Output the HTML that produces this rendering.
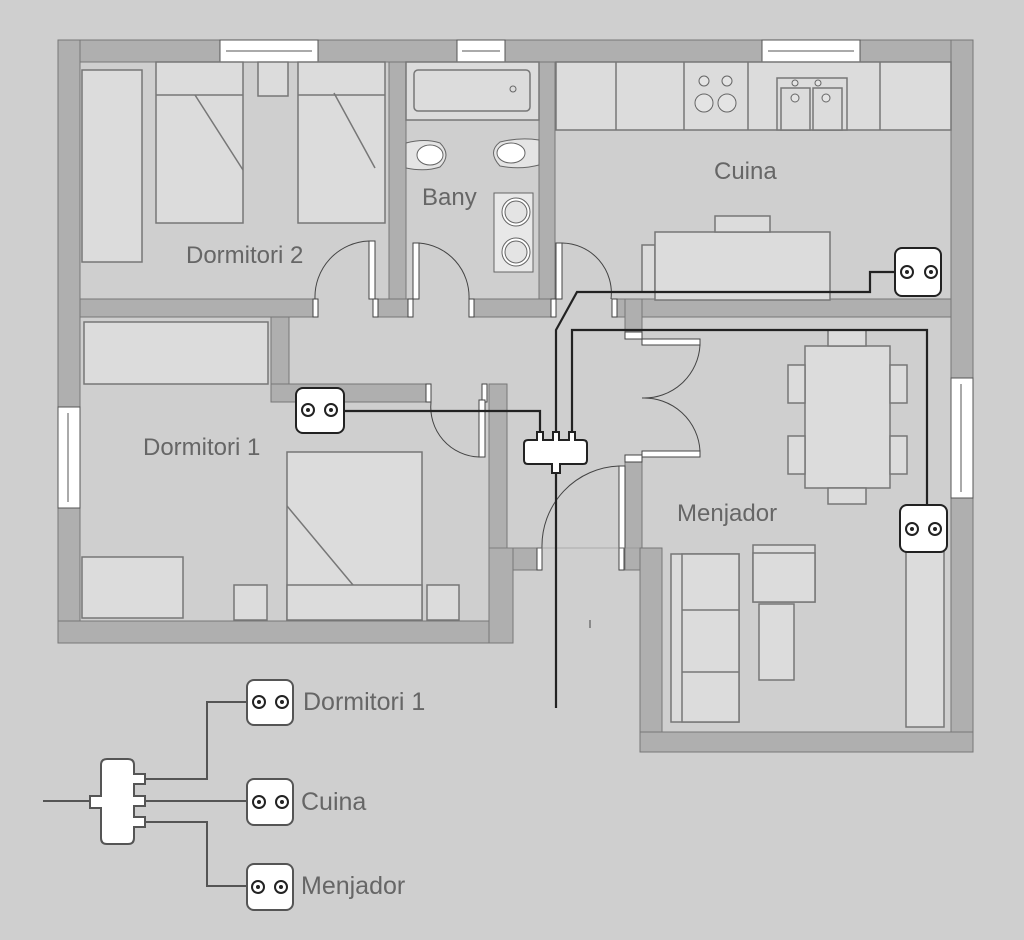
<!DOCTYPE html>
<html><head><meta charset="utf-8"><style>
html,body{margin:0;padding:0;background:#cfcfcf;}
svg{display:block}
text{font-family:"Liberation Sans",sans-serif;fill:#666;}
</style></head><body>
<svg width="1024" height="940" viewBox="0 0 1024 940" xmlns="http://www.w3.org/2000/svg">
<rect width="1024" height="940" fill="#cfcfcf"/>
<g fill="#afafaf" stroke="#777" stroke-width="1">
<rect x="58" y="40" width="915" height="22"/>
<rect x="58" y="40" width="22" height="603"/>
<rect x="58" y="621" width="455" height="22"/>
<rect x="489" y="384" width="18" height="236"/>
<rect x="489" y="548" width="48" height="22"/>
<rect x="489" y="548" width="24" height="95"/>
<rect x="271" y="317" width="18" height="68"/>
<rect x="271" y="384" width="155" height="18"/>
<rect x="80" y="299" width="233" height="18"/>
<rect x="378" y="299" width="30" height="18"/>
<rect x="474" y="299" width="77" height="18"/>
<rect x="617" y="299" width="356" height="18"/>
<rect x="389" y="62" width="17" height="237"/>
<rect x="539" y="62" width="16" height="237"/>
<rect x="951" y="40" width="22" height="712"/>
<rect x="625" y="299" width="17" height="40"/>
<rect x="625" y="460" width="17" height="110"/>
<rect x="640" y="548" width="22" height="204"/>
<rect x="640" y="732" width="333" height="20"/>
</g>
<g fill="#fff" stroke="#555" stroke-width="1">
<rect x="220" y="40" width="98" height="22"/><line x1="226" y1="51" x2="312" y2="51"/>
<rect x="457" y="40" width="48" height="22"/><line x1="462" y1="51" x2="500" y2="51"/>
<rect x="762" y="40" width="98" height="22"/><line x1="768" y1="51" x2="854" y2="51"/>
<rect x="58" y="407" width="22" height="101"/><line x1="68" y1="413" x2="68" y2="502"/>
<rect x="951" y="378" width="22" height="120"/><line x1="961" y1="384" x2="961" y2="492"/>
</g>
<g fill="#fff" stroke="#444" stroke-width="1">
<rect x="313" y="299" width="5" height="18"/><rect x="373" y="299" width="5" height="18"/>
<rect x="369" y="241" width="6" height="58"/>
<rect x="408" y="299" width="5" height="18"/><rect x="469" y="299" width="5" height="18"/>
<rect x="413" y="243" width="6" height="56"/>
<rect x="551" y="299" width="5" height="18"/><rect x="612" y="299" width="5" height="18"/>
<rect x="556" y="243" width="6" height="56"/>
<rect x="426" y="384" width="5" height="18"/><rect x="482" y="384" width="5" height="18"/>
<rect x="479" y="400" width="6" height="57"/>
<rect x="537" y="548" width="5" height="22"/><rect x="619" y="548" width="5" height="22"/>
<rect x="619" y="466" width="6" height="82"/>
<rect x="625" y="332" width="17" height="7"/><rect x="625" y="455" width="17" height="7"/>
<rect x="642" y="339" width="58" height="6"/><rect x="642" y="451" width="58" height="6"/>
</g>
<g fill="none" stroke="#444" stroke-width="1">
<path d="M369 241 A56 56 0 0 0 315 299"/>
<path d="M419 243 A54 54 0 0 1 469 299"/>
<path d="M562 243 A50 50 0 0 1 611 299"/>
<path d="M431 402 A50 50 0 0 0 479 457"/>
<path d="M619 466 A80 80 0 0 0 542 548"/>
<path d="M700 345 A56 56 0 0 1 642 398 A56 56 0 0 1 700 451"/>
<line x1="489" y1="548" x2="640" y2="548" stroke="#888" stroke-width="0.6"/>
<line x1="590" y1="620" x2="590" y2="628"/>
</g>
<g fill="#dcdcdc" stroke="#777" stroke-width="1.5">
<rect x="82" y="70" width="60" height="192"/>
<rect x="156" y="62" width="87" height="161"/><line x1="156" y1="95" x2="243" y2="95"/>
<rect x="258" y="62" width="30" height="34"/>
<rect x="298" y="62" width="87" height="161"/><line x1="298" y1="95" x2="385" y2="95"/>
<rect x="406" y="62" width="133" height="58"/><rect x="414" y="70" width="116" height="41" rx="4"/>
<rect x="556" y="62" width="395" height="68" fill="#dcdcdc"/>
<line x1="616" y1="62" x2="616" y2="130"/><line x1="684" y1="62" x2="684" y2="130"/><line x1="748" y1="62" x2="748" y2="130"/><line x1="880" y1="62" x2="880" y2="130"/>
<rect x="777" y="78" width="70" height="52"/><rect x="781" y="88" width="29" height="42"/><rect x="813" y="88" width="29" height="42"/>
<rect x="642" y="245" width="13" height="47"/>
<rect x="655" y="232" width="175" height="68"/>
<rect x="715" y="216" width="55" height="16"/>
<rect x="84" y="322" width="184" height="62"/>
<rect x="287" y="452" width="135" height="168"/><rect x="287" y="585" width="135" height="35"/>
<rect x="234" y="585" width="33" height="35"/><rect x="427" y="585" width="32" height="35"/>
<rect x="82" y="557" width="101" height="61"/>
<rect x="805" y="346" width="85" height="142"/>
<rect x="828" y="330" width="38" height="16"/><rect x="828" y="488" width="38" height="16"/>
<rect x="788" y="365" width="17" height="38"/><rect x="788" y="436" width="17" height="38"/>
<rect x="890" y="365" width="17" height="38"/><rect x="890" y="436" width="17" height="38"/>
<rect x="671" y="554" width="68" height="168"/><rect x="682" y="554" width="57" height="168"/>
<line x1="682" y1="610" x2="739" y2="610"/><line x1="682" y1="672" x2="739" y2="672"/>
<rect x="753" y="545" width="62" height="57"/><rect x="753" y="553" width="62" height="49"/>
<rect x="759" y="604" width="35" height="76"/>
<rect x="906" y="552" width="38" height="175"/>
</g>
<g fill="#e4e4e4" stroke="#666" stroke-width="1">
<rect x="494" y="193" width="39" height="79" fill="#e8e8e8"/>
<circle cx="516" cy="212" r="14" fill="#fff"/><circle cx="516" cy="212" r="11"/>
<circle cx="516" cy="252" r="14" fill="#fff"/><circle cx="516" cy="252" r="11"/>
<path d="M406 143 Q425 138 440 143 Q452 155 440 167 Q425 172 406 168Z"/><ellipse cx="430" cy="155" rx="13" ry="10" fill="#fff"/>
<path d="M539 140 Q520 137 500 142 Q487 152 500 166 Q520 170 539 165Z"/><ellipse cx="511" cy="153" rx="14" ry="10" fill="#fff"/>
<circle cx="513" cy="89" r="3" fill="none"/>
<circle cx="704" cy="81" r="5"/><circle cx="727" cy="81" r="5"/><circle cx="704" cy="103" r="9"/><circle cx="727" cy="103" r="9"/>
<circle cx="795" cy="83" r="3"/><circle cx="818" cy="83" r="3"/><circle cx="795" cy="98" r="4"/><circle cx="826" cy="98" r="4"/>
</g>
<g stroke="#777" stroke-width="1.5">
<line x1="195" y1="95" x2="243" y2="170"/><line x1="334" y1="93" x2="375" y2="168"/>
<line x1="287" y1="506" x2="353" y2="585"/>
</g>
<g fill="none" stroke="#222" stroke-width="2.2">
<path d="M344 411 H540 V436"/>
<path d="M556 436 V330 L577 292 H870 V272 H896"/>
<path d="M572 436 V330 H927 V506"/>
<path d="M556 470 V708"/>
</g>
<path d="M528 440 H537 V432 H543 V440 H553 V432 H559 V440 H569 V432 H575 V440 H583 Q587 440 587 444 V460 Q587 464 583 464 H560 V473 H552 V464 H528 Q524 464 524 460 V444 Q524 440 528 440Z" fill="#fff" stroke="#222" stroke-width="2"/>
<g>
<rect x="296" y="388" width="48" height="45" rx="7" fill="#fff" stroke="#222" stroke-width="2"/>
<rect x="895" y="248" width="46" height="48" rx="7" fill="#fff" stroke="#222" stroke-width="2"/>
<rect x="900" y="505" width="47" height="47" rx="7" fill="#fff" stroke="#222" stroke-width="2"/>
</g>
<g fill="none" stroke="#222" stroke-width="2">
<circle cx="308" cy="410" r="6"/><circle cx="331" cy="410" r="6"/>
<circle cx="907" cy="272" r="6"/><circle cx="931" cy="272" r="6"/>
<circle cx="912" cy="529" r="6"/><circle cx="935" cy="529" r="6"/>
</g>
<g fill="#222"><circle cx="308" cy="410" r="2"/><circle cx="331" cy="410" r="2"/><circle cx="907" cy="272" r="2"/><circle cx="931" cy="272" r="2"/><circle cx="912" cy="529" r="2"/><circle cx="935" cy="529" r="2"/></g>
<text x="186" y="263" font-size="24">Dormitori 2</text>
<text x="422" y="205" font-size="24">Bany</text>
<text x="714" y="179" font-size="24">Cuina</text>
<text x="143" y="455" font-size="24">Dormitori 1</text>
<text x="677" y="521" font-size="24">Menjador</text>
<g fill="none" stroke="#555" stroke-width="2">
<path d="M43 801 H90"/>
<path d="M145 779 H207 V702 H247"/>
<path d="M145 801 H247"/>
<path d="M145 822 H207 V886 H247"/>
</g>
<path d="M107 759 H128 Q134 759 134 765 V774 H145 V784 H134 V796 H145 V806 H134 V817 H145 V827 H134 V838 Q134 844 128 844 H107 Q101 844 101 838 V808 H90 V796 H101 V765 Q101 759 107 759Z" fill="#fff" stroke="#555" stroke-width="2"/>
<g fill="#fff" stroke="#555" stroke-width="2">
<rect x="247" y="680" width="46" height="45" rx="7"/>
<rect x="247" y="779" width="46" height="46" rx="7"/>
<rect x="247" y="864" width="46" height="46" rx="7"/>
</g>
<g fill="none" stroke="#222" stroke-width="2">
<circle cx="259" cy="702" r="6"/><circle cx="282" cy="702" r="6"/>
<circle cx="259" cy="802" r="6"/><circle cx="282" cy="802" r="6"/>
<circle cx="258" cy="887" r="6"/><circle cx="281" cy="887" r="6"/>
</g>
<g fill="#222"><circle cx="259" cy="702" r="2"/><circle cx="282" cy="702" r="2"/><circle cx="259" cy="802" r="2"/><circle cx="282" cy="802" r="2"/><circle cx="258" cy="887" r="2"/><circle cx="281" cy="887" r="2"/></g>
<text x="303" y="710" font-size="25">Dormitori 1</text>
<text x="301" y="810" font-size="25">Cuina</text>
<text x="301" y="894" font-size="25">Menjador</text>
</svg>
</body></html>
